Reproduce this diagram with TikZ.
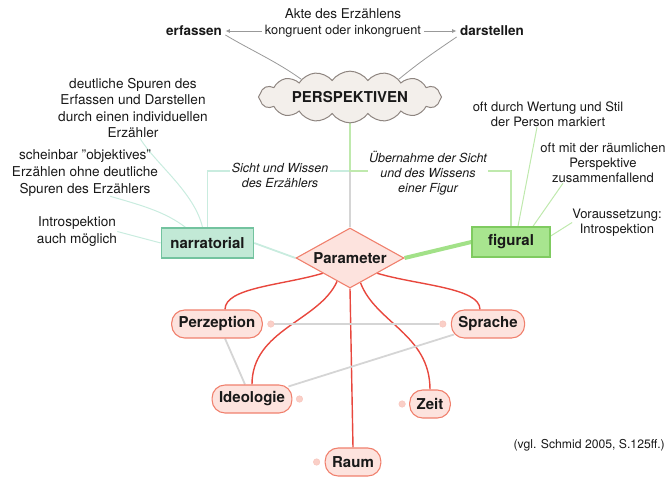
\documentclass[tikz,border=0pt]{standalone}
\usepackage{fontspec}
\setmainfont{TeX Gyre Heros}
\usepackage{xcolor}
\usepackage{tikz}
\usetikzlibrary{arrows.meta}
\usetikzlibrary{shapes.geometric}
\usetikzlibrary{shapes.symbols}
\usetikzlibrary{backgrounds}
\colorlet{ink}{black!90}
\definecolor{cloudfill}{HTML}{F3EFEB}
\definecolor{cloudline}{HTML}{8E8580}
\definecolor{narrfill}{HTML}{C2E9D6}
\definecolor{narrline}{HTML}{73C39F}
\definecolor{narrlink}{HTML}{C9ECDF}
\definecolor{figfill}{HTML}{A8E58F}
\definecolor{figline}{HTML}{7FCB60}
\definecolor{figlink}{HTML}{BFE9AD}
\definecolor{parfill}{HTML}{FDE3DE}
\definecolor{parline}{HTML}{F0806D}
\definecolor{parlink}{HTML}{E8473D}
\definecolor{relgray}{HTML}{D5D5D5}
\newcommand\notefont{\fontsize{13.6}{16.6}\selectfont}
\newcommand\figfont{\fontsize{13}{15.2}\selectfont}
\newcommand\labfont{\fontsize{12.5}{15}\selectfont\itshape}
\newcommand\topicfont{\fontsize{15}{18}\selectfont\bfseries}
\tikzstyle{note}=[align=center,inner sep=0pt,text=ink,font=\notefont]
\tikzstyle{fignote}=[note,font=\figfont]
\tikzstyle{lab}=[note,font=\labfont,fill=white,inner sep=1.5pt]
\tikzstyle{topic}=[text=ink,font=\topicfont]
\tikzstyle{word}=[text=ink,font=\fontsize{13.5}{16}\selectfont\bfseries]
\tikzstyle{box}=[topic,draw,line width=1.4pt,minimum height=30pt,inner xsep=9pt]
\tikzstyle{param}=[topic,draw=parline,fill=parfill,line width=1.1pt,rounded corners=13pt,minimum height=28pt,inner xsep=7pt]
\tikzstyle{linkdot}=[circle,inner sep=0pt,minimum size=6.5pt,fill=parfill!80!parline,draw=parline!45,line width=.5pt]
\tikzstyle{rellink}=[relgray,line width=1.8pt]
\tikzstyle{redlink}=[parlink,line width=1.4pt]
\tikzstyle{narrconn}=[narrlink,line width=1.3pt]
\tikzstyle{figconn}=[figlink,line width=1.3pt]
\tikzstyle{toplink}=[black!40,line width=.8pt]
\tikzstyle{toparrow}=[toplink,-{Latex[length=4.5pt,width=4pt]}]

\begin{document}
\begin{tikzpicture}[x=1pt,y=-1pt]
\useasboundingbox (0,0) rectangle (667,480);
\node[shape=cloud,cloud puffs=16,cloud puff arc=110,aspect=5,draw=cloudline,fill=cloudfill,line width=1pt,minimum width=183pt,minimum height=37pt,topic] (persp) at (350,97) {PERSPEKTIVEN};
\node[word] (erf) at (194,31) {erfassen};
\node[word] (darst) at (492,31) {darstellen};
\node[note,font=\fontsize{13.5}{16}\selectfont] (akte) at (343,14) {Akte des Erzählens};
\node[note,font=\fontsize{12.8}{15}\selectfont,inner xsep=3pt] (kongr) at (343,31) {kongruent oder inkongruent};

\node[shape=diamond,aspect=1.8,inner sep=0pt,minimum width=108pt,minimum height=60pt,draw=parline,fill=parfill,line width=1.1pt,topic] (param) at (350,258) {Parameter};
\node[box,draw=narrline,fill=narrfill,minimum width=91pt] (narr) at (207.5,243) {narratorial};
\node[box,draw=figline,fill=figfill,minimum width=78pt] (fig) at (511,242) {figural};
\coordinate (fork) at (350,171);

\node[note] (note1) at (133,108) {deutliche Spuren des\\Erfassen und Darstellen\\durch einen individuellen\\Erzähler};
\node[note] (note2) at (85,173) {scheinbar "objektives"\\Erzählen ohne deutliche\\Spuren des Erzählers};
\node[note] (note3) at (77,231.5) {Introspektion\\auch möglich};
\node[fignote] (fnote1) at (548,114.5) {oft durch Wertung und Stil\\der Person markiert};
\node[fignote] (fnote2) at (603,163) {oft mit der räumlichen\\Perspektive\\zusammenfallend};
\node[fignote] (fnote3) at (617,222.5) {Voraussetzung:\\Introspektion};
\node[lab] (sicht) at (280,175.5) {Sicht und Wissen\\des Erzählers};
\node[lab] (uebern) at (428,173) {Übernahme der Sicht\\und des Wissens\\einer Figur};

\node[param] (perz) at (217,324) {Perzeption};
\node[param] (spr) at (488,324) {Sprache};
\node[param] (ideo) at (252,399) {Ideologie};
\node[param] (zeit) at (430,404) {Zeit};
\node[param] (raum) at (353,462) {Raum};
\node[linkdot] (perzdot) at ([xshift=8pt]perz.east) {};
\node[linkdot] (sprdot) at ([xshift=-8pt]spr.west) {};
\node[linkdot] (ideodot) at ([xshift=7pt]ideo.east) {};
\node[linkdot] (zeitdot) at ([xshift=-7pt]zeit.west) {};
\node[linkdot] (raumdot) at ([xshift=-8pt]raum.west) {};

\node[fignote,font=\fontsize{12.2}{15}\selectfont,anchor=east] (cite) at (665,445) {(vgl. Schmid 2005, S.125ff.)};

\begin{scope}[on background layer]
\draw[toparrow] (kongr.west) -- (erf.east);
\draw[toparrow] (kongr.east) -- (darst.west);
\draw[toplink] (persp.160) .. controls +(-25,-18) and +(25,15) .. ([yshift=-4pt]erf.east);
\draw[toplink] (persp.20) .. controls +(22,-18) and +(-22,15) .. ([yshift=-6pt]darst.west);
\draw[rellink] (persp.south) -- (param.north);
\draw[narrconn] (persp.south) -- (fork) -| (narr.north);
\draw[figconn] (persp.south) -- (fork) -| (fig.north);
\draw[narrconn,line width=1.8pt] (narr.east) -- (param.west);
\draw[figfill!85!figline,line width=4pt] (param.east) -- (fig.west);
\draw[narrconn,line width=1pt] ([xshift=7pt]note1.south) .. controls +(15,25) and +(-8,-35) .. ([xshift=-5pt]narr.north);
\draw[narrconn,line width=1pt] ([xshift=25pt]note2.south) .. controls +(35,10) and +(-20,-15) .. ([xshift=-22pt]narr.north);
\draw[narrconn,line width=1pt] (note3.east) -- (narr.west);
\draw[figconn,line width=1pt] ([xshift=-11pt]fnote1.south) -- ([xshift=7pt]fig.north);
\draw[figconn,line width=1pt] ([xshift=-40pt]fnote2.south) -- ([xshift=22pt]fig.north);
\draw[figconn,line width=1pt] (fnote3.west) -- ([yshift=6pt]fig.east);
\draw[redlink] (param.south west) .. controls +(-40,12) and +(0,-22) .. ([xshift=8pt]perz.north);
\draw[redlink] (param.241) .. controls +(-18,40) and +(0,-55) .. (ideo.north);
\draw[redlink] (param.south) -- (raum.north);
\draw[redlink] (param.293) .. controls +(15,40) and +(0,-55) .. (zeit.north);
\draw[redlink] (param.south east) .. controls +(40,12) and +(0,-22) .. ([xshift=-8pt]spr.north);
\draw[rellink] (perzdot) -- (sprdot);
\draw[rellink] ([xshift=3pt,yshift=4pt]spr.south west) -- ([xshift=-4pt,yshift=-2pt]ideo.north east);
\draw[rellink] ([xshift=8pt]perz.south) -- ([xshift=-7pt]ideo.north);
\end{scope}
\end{tikzpicture}
\end{document}
